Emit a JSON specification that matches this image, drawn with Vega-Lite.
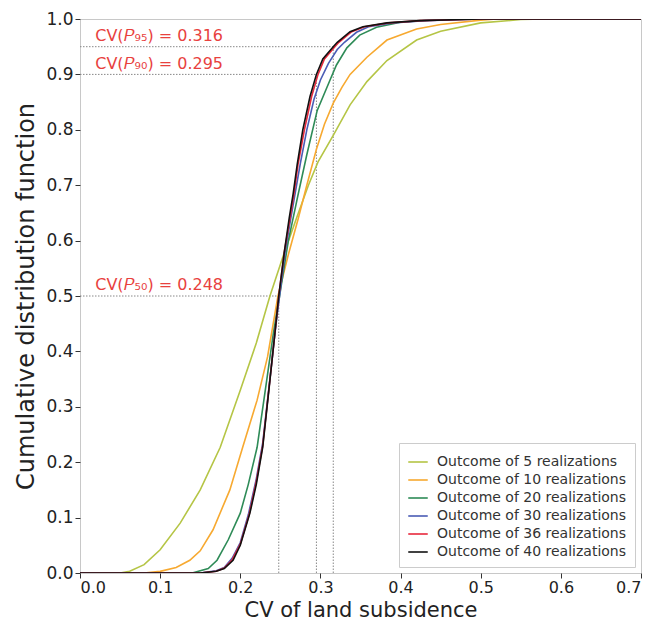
{
  "$schema": "https://vega.github.io/schema/vega-lite/v6.json",
  "width": 561,
  "height": 554,
  "autosize": {"type": "none"},
  "padding": {"left": 80, "top": 19, "right": 14, "bottom": 49},
  "config": {
    "font": "DejaVu Sans",
    "view": {"stroke": "#c8c8c8", "strokeWidth": 1},
    "axis": {
      "grid": false,
      "domain": false,
      "tickColor": "#333",
      "tickSize": 5,
      "labelFontSize": 17,
      "labelColor": "#222",
      "titleFontSize": 23,
      "titleFontWeight": "normal",
      "titleColor": "#222",
      "labelFont": "DejaVu Sans",
      "titleFont": "DejaVu Sans"
    }
  },
  "datasets": {
    "curves": [
      {"s": "Outcome of 5 realizations", "x": 0, "y": 0},
      {"s": "Outcome of 5 realizations", "x": 0.05, "y": 0},
      {"s": "Outcome of 5 realizations", "x": 0.062, "y": 0.003},
      {"s": "Outcome of 5 realizations", "x": 0.08, "y": 0.015},
      {"s": "Outcome of 5 realizations", "x": 0.1, "y": 0.042},
      {"s": "Outcome of 5 realizations", "x": 0.125, "y": 0.09},
      {"s": "Outcome of 5 realizations", "x": 0.15, "y": 0.15},
      {"s": "Outcome of 5 realizations", "x": 0.175, "y": 0.227},
      {"s": "Outcome of 5 realizations", "x": 0.2, "y": 0.33},
      {"s": "Outcome of 5 realizations", "x": 0.22, "y": 0.415},
      {"s": "Outcome of 5 realizations", "x": 0.237, "y": 0.5},
      {"s": "Outcome of 5 realizations", "x": 0.253, "y": 0.57},
      {"s": "Outcome of 5 realizations", "x": 0.27, "y": 0.64},
      {"s": "Outcome of 5 realizations", "x": 0.285, "y": 0.7},
      {"s": "Outcome of 5 realizations", "x": 0.297, "y": 0.742},
      {"s": "Outcome of 5 realizations", "x": 0.316, "y": 0.79},
      {"s": "Outcome of 5 realizations", "x": 0.337, "y": 0.845},
      {"s": "Outcome of 5 realizations", "x": 0.358, "y": 0.887},
      {"s": "Outcome of 5 realizations", "x": 0.383, "y": 0.925},
      {"s": "Outcome of 5 realizations", "x": 0.42, "y": 0.962},
      {"s": "Outcome of 5 realizations", "x": 0.45, "y": 0.978},
      {"s": "Outcome of 5 realizations", "x": 0.5, "y": 0.993},
      {"s": "Outcome of 5 realizations", "x": 0.55, "y": 0.999},
      {"s": "Outcome of 5 realizations", "x": 0.58, "y": 1},
      {"s": "Outcome of 5 realizations", "x": 0.7, "y": 1},

      {"s": "Outcome of 10 realizations", "x": 0, "y": 0},
      {"s": "Outcome of 10 realizations", "x": 0.08, "y": 0},
      {"s": "Outcome of 10 realizations", "x": 0.1, "y": 0.003},
      {"s": "Outcome of 10 realizations", "x": 0.12, "y": 0.01},
      {"s": "Outcome of 10 realizations", "x": 0.137, "y": 0.023},
      {"s": "Outcome of 10 realizations", "x": 0.15, "y": 0.04},
      {"s": "Outcome of 10 realizations", "x": 0.166, "y": 0.078},
      {"s": "Outcome of 10 realizations", "x": 0.187, "y": 0.15},
      {"s": "Outcome of 10 realizations", "x": 0.203, "y": 0.227},
      {"s": "Outcome of 10 realizations", "x": 0.221, "y": 0.312},
      {"s": "Outcome of 10 realizations", "x": 0.234, "y": 0.39},
      {"s": "Outcome of 10 realizations", "x": 0.247, "y": 0.5},
      {"s": "Outcome of 10 realizations", "x": 0.26, "y": 0.575},
      {"s": "Outcome of 10 realizations", "x": 0.272, "y": 0.638},
      {"s": "Outcome of 10 realizations", "x": 0.283, "y": 0.7},
      {"s": "Outcome of 10 realizations", "x": 0.295, "y": 0.765},
      {"s": "Outcome of 10 realizations", "x": 0.305, "y": 0.81},
      {"s": "Outcome of 10 realizations", "x": 0.316, "y": 0.848},
      {"s": "Outcome of 10 realizations", "x": 0.327, "y": 0.877},
      {"s": "Outcome of 10 realizations", "x": 0.337, "y": 0.9},
      {"s": "Outcome of 10 realizations", "x": 0.358, "y": 0.931},
      {"s": "Outcome of 10 realizations", "x": 0.383, "y": 0.962},
      {"s": "Outcome of 10 realizations", "x": 0.42, "y": 0.982},
      {"s": "Outcome of 10 realizations", "x": 0.45, "y": 0.99},
      {"s": "Outcome of 10 realizations", "x": 0.5, "y": 0.998},
      {"s": "Outcome of 10 realizations", "x": 0.52, "y": 1},
      {"s": "Outcome of 10 realizations", "x": 0.7, "y": 1},

      {"s": "Outcome of 20 realizations", "x": 0, "y": 0},
      {"s": "Outcome of 20 realizations", "x": 0.14, "y": 0},
      {"s": "Outcome of 20 realizations", "x": 0.16, "y": 0.008},
      {"s": "Outcome of 20 realizations", "x": 0.171, "y": 0.023},
      {"s": "Outcome of 20 realizations", "x": 0.185, "y": 0.06},
      {"s": "Outcome of 20 realizations", "x": 0.2, "y": 0.108},
      {"s": "Outcome of 20 realizations", "x": 0.21, "y": 0.16},
      {"s": "Outcome of 20 realizations", "x": 0.221, "y": 0.227},
      {"s": "Outcome of 20 realizations", "x": 0.233, "y": 0.348},
      {"s": "Outcome of 20 realizations", "x": 0.241, "y": 0.43},
      {"s": "Outcome of 20 realizations", "x": 0.249, "y": 0.5},
      {"s": "Outcome of 20 realizations", "x": 0.26, "y": 0.6},
      {"s": "Outcome of 20 realizations", "x": 0.272, "y": 0.682},
      {"s": "Outcome of 20 realizations", "x": 0.283, "y": 0.755},
      {"s": "Outcome of 20 realizations", "x": 0.296, "y": 0.835},
      {"s": "Outcome of 20 realizations", "x": 0.312, "y": 0.89},
      {"s": "Outcome of 20 realizations", "x": 0.32, "y": 0.917},
      {"s": "Outcome of 20 realizations", "x": 0.333, "y": 0.948},
      {"s": "Outcome of 20 realizations", "x": 0.349, "y": 0.971},
      {"s": "Outcome of 20 realizations", "x": 0.37, "y": 0.985},
      {"s": "Outcome of 20 realizations", "x": 0.4, "y": 0.994},
      {"s": "Outcome of 20 realizations", "x": 0.45, "y": 0.999},
      {"s": "Outcome of 20 realizations", "x": 0.5, "y": 1},
      {"s": "Outcome of 20 realizations", "x": 0.7, "y": 1},

      {"s": "Outcome of 30 realizations", "x": 0, "y": 0},
      {"s": "Outcome of 30 realizations", "x": 0.15, "y": 0},
      {"s": "Outcome of 30 realizations", "x": 0.17, "y": 0.004},
      {"s": "Outcome of 30 realizations", "x": 0.18, "y": 0.01},
      {"s": "Outcome of 30 realizations", "x": 0.19, "y": 0.027},
      {"s": "Outcome of 30 realizations", "x": 0.2, "y": 0.055},
      {"s": "Outcome of 30 realizations", "x": 0.21, "y": 0.105},
      {"s": "Outcome of 30 realizations", "x": 0.22, "y": 0.17},
      {"s": "Outcome of 30 realizations", "x": 0.228, "y": 0.235},
      {"s": "Outcome of 30 realizations", "x": 0.237, "y": 0.35},
      {"s": "Outcome of 30 realizations", "x": 0.243, "y": 0.43},
      {"s": "Outcome of 30 realizations", "x": 0.249, "y": 0.5},
      {"s": "Outcome of 30 realizations", "x": 0.256, "y": 0.58},
      {"s": "Outcome of 30 realizations", "x": 0.263, "y": 0.64},
      {"s": "Outcome of 30 realizations", "x": 0.269, "y": 0.69},
      {"s": "Outcome of 30 realizations", "x": 0.275, "y": 0.74},
      {"s": "Outcome of 30 realizations", "x": 0.283, "y": 0.8},
      {"s": "Outcome of 30 realizations", "x": 0.292, "y": 0.855},
      {"s": "Outcome of 30 realizations", "x": 0.3, "y": 0.89},
      {"s": "Outcome of 30 realizations", "x": 0.31, "y": 0.92},
      {"s": "Outcome of 30 realizations", "x": 0.321, "y": 0.945},
      {"s": "Outcome of 30 realizations", "x": 0.33, "y": 0.958},
      {"s": "Outcome of 30 realizations", "x": 0.345, "y": 0.976},
      {"s": "Outcome of 30 realizations", "x": 0.36, "y": 0.986},
      {"s": "Outcome of 30 realizations", "x": 0.39, "y": 0.993},
      {"s": "Outcome of 30 realizations", "x": 0.43, "y": 0.997},
      {"s": "Outcome of 30 realizations", "x": 0.5, "y": 1},
      {"s": "Outcome of 30 realizations", "x": 0.7, "y": 1},

      {"s": "Outcome of 36 realizations", "x": 0, "y": 0},
      {"s": "Outcome of 36 realizations", "x": 0.15, "y": 0},
      {"s": "Outcome of 36 realizations", "x": 0.17, "y": 0.003},
      {"s": "Outcome of 36 realizations", "x": 0.18, "y": 0.009},
      {"s": "Outcome of 36 realizations", "x": 0.19, "y": 0.024},
      {"s": "Outcome of 36 realizations", "x": 0.2, "y": 0.052},
      {"s": "Outcome of 36 realizations", "x": 0.211, "y": 0.105},
      {"s": "Outcome of 36 realizations", "x": 0.22, "y": 0.165},
      {"s": "Outcome of 36 realizations", "x": 0.228, "y": 0.23},
      {"s": "Outcome of 36 realizations", "x": 0.237, "y": 0.35},
      {"s": "Outcome of 36 realizations", "x": 0.243, "y": 0.43},
      {"s": "Outcome of 36 realizations", "x": 0.248, "y": 0.5},
      {"s": "Outcome of 36 realizations", "x": 0.255, "y": 0.58},
      {"s": "Outcome of 36 realizations", "x": 0.262, "y": 0.64},
      {"s": "Outcome of 36 realizations", "x": 0.267, "y": 0.685},
      {"s": "Outcome of 36 realizations", "x": 0.272, "y": 0.737},
      {"s": "Outcome of 36 realizations", "x": 0.28, "y": 0.8},
      {"s": "Outcome of 36 realizations", "x": 0.289, "y": 0.86},
      {"s": "Outcome of 36 realizations", "x": 0.297, "y": 0.9},
      {"s": "Outcome of 36 realizations", "x": 0.305, "y": 0.928},
      {"s": "Outcome of 36 realizations", "x": 0.318, "y": 0.95},
      {"s": "Outcome of 36 realizations", "x": 0.323, "y": 0.958},
      {"s": "Outcome of 36 realizations", "x": 0.339, "y": 0.977},
      {"s": "Outcome of 36 realizations", "x": 0.355, "y": 0.986},
      {"s": "Outcome of 36 realizations", "x": 0.385, "y": 0.993},
      {"s": "Outcome of 36 realizations", "x": 0.425, "y": 0.997},
      {"s": "Outcome of 36 realizations", "x": 0.5, "y": 1},
      {"s": "Outcome of 36 realizations", "x": 0.7, "y": 1},

      {"s": "Outcome of 40 realizations", "x": 0, "y": 0},
      {"s": "Outcome of 40 realizations", "x": 0.15, "y": 0},
      {"s": "Outcome of 40 realizations", "x": 0.17, "y": 0.003},
      {"s": "Outcome of 40 realizations", "x": 0.18, "y": 0.008},
      {"s": "Outcome of 40 realizations", "x": 0.191, "y": 0.023},
      {"s": "Outcome of 40 realizations", "x": 0.2, "y": 0.05},
      {"s": "Outcome of 40 realizations", "x": 0.212, "y": 0.108},
      {"s": "Outcome of 40 realizations", "x": 0.22, "y": 0.16},
      {"s": "Outcome of 40 realizations", "x": 0.228, "y": 0.227},
      {"s": "Outcome of 40 realizations", "x": 0.237, "y": 0.348},
      {"s": "Outcome of 40 realizations", "x": 0.243, "y": 0.43},
      {"s": "Outcome of 40 realizations", "x": 0.248, "y": 0.5},
      {"s": "Outcome of 40 realizations", "x": 0.255, "y": 0.58},
      {"s": "Outcome of 40 realizations", "x": 0.261, "y": 0.64},
      {"s": "Outcome of 40 realizations", "x": 0.266, "y": 0.685},
      {"s": "Outcome of 40 realizations", "x": 0.271, "y": 0.737},
      {"s": "Outcome of 40 realizations", "x": 0.278, "y": 0.8},
      {"s": "Outcome of 40 realizations", "x": 0.287, "y": 0.86},
      {"s": "Outcome of 40 realizations", "x": 0.295, "y": 0.9},
      {"s": "Outcome of 40 realizations", "x": 0.303, "y": 0.928},
      {"s": "Outcome of 40 realizations", "x": 0.316, "y": 0.95},
      {"s": "Outcome of 40 realizations", "x": 0.321, "y": 0.958},
      {"s": "Outcome of 40 realizations", "x": 0.337, "y": 0.977},
      {"s": "Outcome of 40 realizations", "x": 0.353, "y": 0.986},
      {"s": "Outcome of 40 realizations", "x": 0.383, "y": 0.993},
      {"s": "Outcome of 40 realizations", "x": 0.424, "y": 0.997},
      {"s": "Outcome of 40 realizations", "x": 0.5, "y": 1},
      {"s": "Outcome of 40 realizations", "x": 0.7, "y": 1}
    ],
    "hrules": [
      {"x": 0, "x2": 0.248, "y": 0.5},
      {"x": 0, "x2": 0.295, "y": 0.9},
      {"x": 0, "x2": 0.316, "y": 0.95}
    ],
    "vrules": [
      {"x": 0.248, "y": 0, "y2": 0.5},
      {"x": 0.295, "y": 0, "y2": 0.9},
      {"x": 0.316, "y": 0, "y2": 0.95}
    ],
    "labels": [
      {"t": "CV(𝑃₅₀) = 0.248", "x": 0.019, "y": 0.51},
      {"t": "CV(𝑃₉₀) = 0.295", "x": 0.019, "y": 0.909},
      {"t": "CV(𝑃₉₅) = 0.316", "x": 0.019, "y": 0.96}
    ]
  },
  "layer": [
    {
      "data": {"name": "hrules"},
      "mark": {"type": "rule", "color": "#888", "strokeDash": [1.5, 1.5], "strokeWidth": 1},
      "encoding": {
        "x": {"field": "x", "type": "quantitative", "scale": {"domain": [0, 0.7]}},
        "x2": {"field": "x2"},
        "y": {"field": "y", "type": "quantitative", "scale": {"domain": [0, 1]}}
      }
    },
    {
      "data": {"name": "vrules"},
      "mark": {"type": "rule", "color": "#888", "strokeDash": [1.5, 1.5], "strokeWidth": 1},
      "encoding": {
        "x": {"field": "x", "type": "quantitative"},
        "y": {"field": "y", "type": "quantitative"},
        "y2": {"field": "y2"}
      }
    },
    {
      "data": {"name": "curves"},
      "mark": {"type": "line", "strokeWidth": 1.6, "clip": true},
      "encoding": {
        "x": {
          "field": "x", "type": "quantitative",
          "scale": {"domain": [0, 0.7], "nice": false},
          "axis": {"values": [0, 0.1, 0.2, 0.3, 0.4, 0.5, 0.6, 0.7], "format": ".1f", "title": "CV of land subsidence", "labelFontSize": 16, "titleFontSize": 21, "labelPadding": 1, "titlePadding": 4}
        },
        "y": {
          "field": "y", "type": "quantitative",
          "scale": {"domain": [0, 1], "nice": false},
          "axis": {"values": [0, 0.1, 0.2, 0.3, 0.4, 0.5, 0.6, 0.7, 0.8, 0.9, 1], "format": ".1f", "title": "Cumulative distribution function", "titleFontSize": 24, "labelPadding": 2, "titlePadding": 7}
        },
        "color": {
          "field": "s", "type": "nominal",
          "scale": {
            "domain": ["Outcome of 5 realizations", "Outcome of 10 realizations", "Outcome of 20 realizations", "Outcome of 30 realizations", "Outcome of 36 realizations", "Outcome of 40 realizations"],
            "range": ["#b5c545", "#f7a930", "#2e8b57", "#4a5cb5", "#e8283c", "#111111"]
          },
          "legend": {
            "title": null,
            "orient": "bottom-right",
            "offset": 6,
            "symbolType": "stroke",
            "symbolSize": 380,
            "symbolStrokeWidth": 1.6,
            "labelFontSize": 14,
            "labelColor": "#333",
            "labelFont": "DejaVu Sans",
            "labelOffset": 8,
            "rowPadding": 0,
            "padding": 8,
            "strokeColor": "#ccc",
            "fillColor": "white",
            "labelLimit": 300
          }
        }
      }
    },
    {
      "data": {"name": "labels"},
      "mark": {"type": "text", "align": "left", "baseline": "alphabetic", "color": "#e8413e", "fontSize": 16, "font": "DejaVu Sans"},
      "encoding": {
        "x": {"field": "x", "type": "quantitative"},
        "y": {"field": "y", "type": "quantitative"},
        "text": {"field": "t"}
      }
    }
  ]
}
